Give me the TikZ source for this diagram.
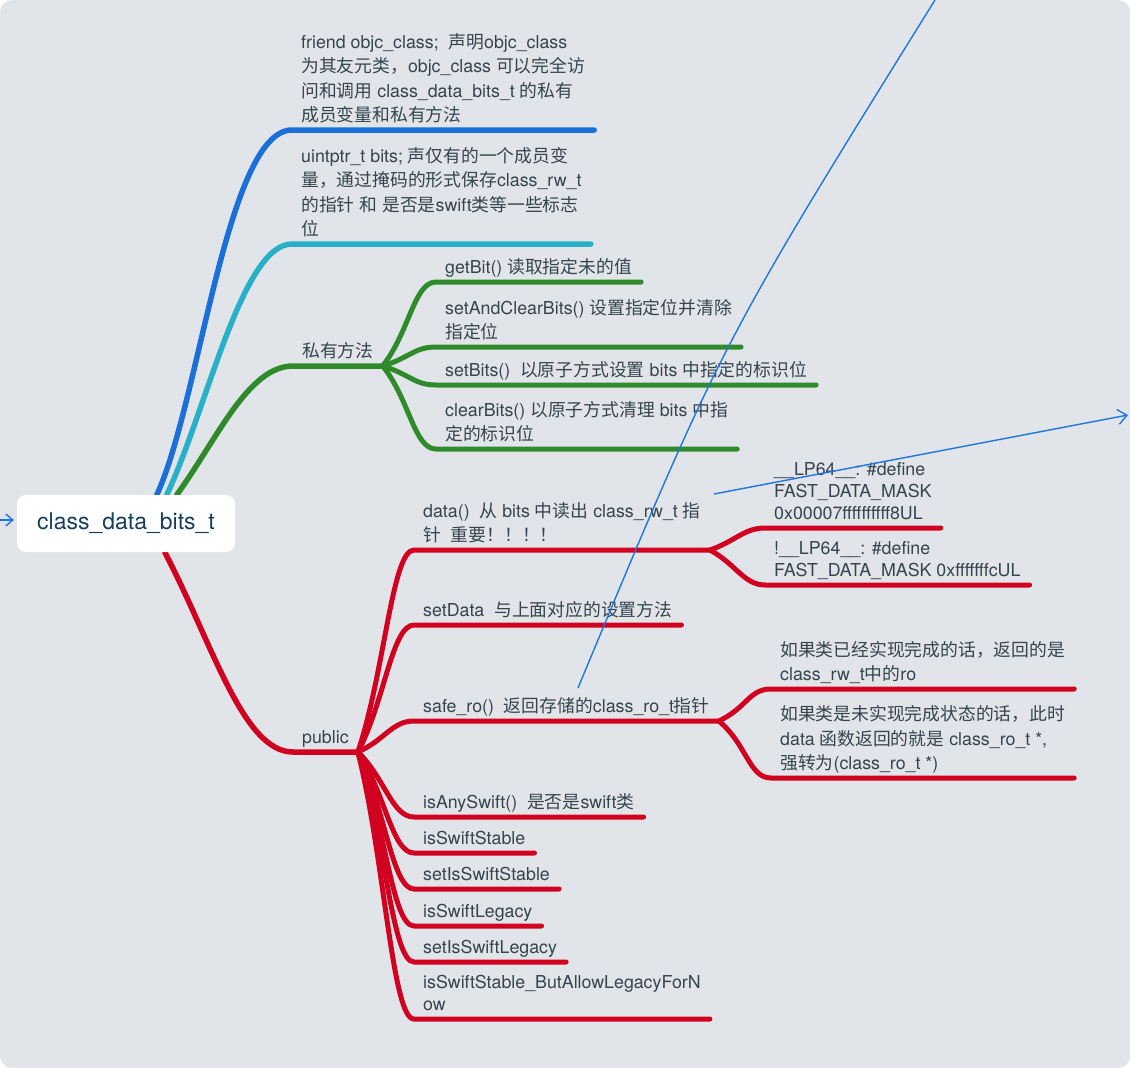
\documentclass[tikz,border=0pt]{standalone}
\usepackage{fontspec}
\setmainfont{TeX Gyre Heros}
\newfontfamily\cjkfont{Noto Sans CJK SC}
\usetikzlibrary{arrows.meta}

% CJK runs switch to the CJK family by themselves
\XeTeXinterchartokenstate=1
\newXeTeXintercharclass\cjkclass
\newcount\cjkcount
\cjkcount="3000
\loop\ifnum\cjkcount<"3040
	\XeTeXcharclass\cjkcount=\cjkclass
	\advance\cjkcount by 1
\repeat
\cjkcount="4E00
\loop\ifnum\cjkcount<"A000
	\XeTeXcharclass\cjkcount=\cjkclass
	\advance\cjkcount by 1
\repeat
\cjkcount="FF00
\loop\ifnum\cjkcount<"FFF0
	\XeTeXcharclass\cjkcount=\cjkclass
	\advance\cjkcount by 1
\repeat
\XeTeXinterchartoks 0 \cjkclass = {\begingroup\cjkfont}
\XeTeXinterchartoks 4095 \cjkclass = {\begingroup\cjkfont}
\XeTeXinterchartoks \cjkclass 0 = {\endgroup}
\XeTeXinterchartoks \cjkclass 4095 = {\endgroup}

\definecolor{canvas}{HTML}{E1E5EA}
\definecolor{branchblue}{HTML}{1A6FD8}
\definecolor{branchteal}{HTML}{28B0C8}
\definecolor{branchgreen}{HTML}{2F8A2B}
\definecolor{branchred}{HTML}{D10220}
\definecolor{textgray}{HTML}{36444D}
\definecolor{roottext}{HTML}{163F5C}
\definecolor{noteblue}{HTML}{1E76DA}

\pgfdeclarelayer{back}
\pgfdeclarelayer{lines}
\pgfsetlayers{back,lines,main}

\begin{document}
\begin{tikzpicture}[x = 1pt, y = -1pt,
		root/.style = {fill = white, rounded corners = 9pt, minimum width = 218pt, minimum height = 57pt, inner sep = 0pt, text = roottext, font = \fontsize{23}{27}\selectfont},
		leaf/.style = {anchor = south west, align = left, inner xsep = 9pt, inner ysep = 0pt, text = textgray, font = \fontsize{17.8}{24.5}\selectfont, execute at end node = {\rule[-8pt]{0pt}{8pt}}},
		tight/.style = {font = \fontsize{17.8}{22}\selectfont},
		branch/.style = {line width = 5.5pt, line cap = round},
		twig/.style = {line width = 5pt, line cap = round, branchred},
		note/.style = {noteblue, line width = 1.4pt}]
	\useasboundingbox (0, 0) rectangle (1130, 1068);
	\begin{pgfonlayer}{back}
		\fill [white] (0, 0) rectangle (1130, 1068);
		\fill [canvas, rounded corners = 12pt] (0, 0) rectangle (1130, 1068);
	\end{pgfonlayer}

	\node [root] (bits) at (126, 523.5) {class\_data\_bits\_t};

	\node [leaf] (friend) at (292, 130) {friend objc\_class; \ 声明objc\_class\\为其友元类，objc\_class 可以完全访\\问和调用 class\_data\_bits\_t 的私有\\成员变量和私有方法};
	\node [leaf] (uintptr) at (292, 244) {uintptr\_t bits; 声仅有的一个成员变\\量，通过掩码的形式保存class\_rw\_t\\的指针 和 是否是swift类等一些标志\\位};

	\node [leaf] (private) at (293, 366) {私有方法};
	\node [leaf] (getbit) at (436, 282) {getBit() 读取指定未的值};
	\node [leaf] (setclear) at (436, 347) {setAndClearBits() 设置指定位并清除\\指定位};
	\node [leaf] (setbits) at (436, 385) {setBits()\ \ 以原子方式设置 bits 中指定的标识位};
	\node [leaf] (clearbits) at (436, 449) {clearBits() 以原子方式清理 bits 中指\\定的标识位};

	\node [leaf] (public) at (293, 752) {public};
	\node [leaf] (data) at (414, 550) {data()\ \ 从 bits 中读出 class\_rw\_t 指\\针\ \ 重要！！！！};
	\node [leaf, tight] (lp64) at (765, 528) {\_\_LP64\_\_: \#define\\FAST\_DATA\_MASK\\0x00007ffffffffff8UL};
	\node [leaf, tight] (nlp64) at (765, 585) {!\_\_LP64\_\_: \#define\\FAST\_DATA\_MASK 0xfffffffcUL};
	\node [leaf] (setdata) at (414, 625) {setData\ \ 与上面对应的设置方法};
	\node [leaf] (safero) at (414, 721) {safe\_ro()\ \ 返回存储的class\_ro\_t指针};
	\node [leaf] (built) at (771, 689) {如果类已经实现完成的话，返回的是\\class\_rw\_t中的ro};
	\node [leaf] (unbuilt) at (771, 778) {如果类是未实现完成状态的话，此时\\data 函数返回的就是 class\_ro\_t *,\\强转为(class\_ro\_t *)};
	\node [leaf] (anyswift) at (414, 817) {isAnySwift()\ \ 是否是swift类};
	\node [leaf] (stable) at (414, 853) {isSwiftStable};
	\node [leaf] (setstable) at (414, 889) {setIsSwiftStable};
	\node [leaf] (legacy) at (414, 926) {isSwiftLegacy};
	\node [leaf] (setlegacy) at (414, 962) {setIsSwiftLegacy};
	\node [leaf, tight] (allowlegacy) at (414, 1019) {isSwiftStable\_ButAllowLegacyForN\\ow};

	\begin{pgfonlayer}{lines}
		% first level
		\draw [branch, branchblue] ([xshift = 140]bits.north west) .. controls +(43, -93) and +(-65, 0) .. (friend.south west) -- (friend.south east);
		\draw [branch, branchteal] ([xshift = 150]bits.north west) .. controls +(40, -85) and +(-50, 0) .. (uintptr.south west) -- (uintptr.south east);
		\draw [branch, branchgreen] ([xshift = 160]bits.north west) .. controls +(40, -55) and +(-45, 0) .. (private.south west) -- (private.south east);
		\draw [branch, branchred] ([xshift = 148]bits.south west) .. controls +(48, 92) and +(-50, 0) .. (public.south west) -- (public.south east);

		% private methods
		\draw [twig, branchgreen] (private.south east) .. controls +(27, -34) and +(-22, 0) .. (getbit.south west) -- (getbit.south east);
		\draw [twig, branchgreen] (private.south east) .. controls +(27, -8) and +(-22, 0) .. (setclear.south west) -- (setclear.south east);
		\draw [twig, branchgreen] (private.south east) .. controls +(27, 8) and +(-22, 0) .. (setbits.south west) -- (setbits.south east);
		\draw [twig, branchgreen] (private.south east) .. controls +(27, 33) and +(-22, 0) .. (clearbits.south west) -- (clearbits.south east);

		% public
		\draw [twig] (public.south east) .. controls +(27, -81) and +(-22, 0) .. (data.south west) -- (data.south east);
		\draw [twig] (public.south east) .. controls +(27, -51) and +(-22, 0) .. (setdata.south west) -- (setdata.south east);
		\draw [twig] (public.south east) .. controls +(27, -12) and +(-22, 0) .. (safero.south west) -- (safero.south east);
		\draw [twig] (public.south east) .. controls +(27, 26) and +(-22, 0) .. (anyswift.south west) -- (anyswift.south east);
		\draw [twig] (public.south east) .. controls +(27, 40) and +(-22, 0) .. (stable.south west) -- (stable.south east);
		\draw [twig] (public.south east) .. controls +(27, 55) and +(-22, 0) .. (setstable.south west) -- (setstable.south east);
		\draw [twig] (public.south east) .. controls +(27, 70) and +(-22, 0) .. (legacy.south west) -- (legacy.south east);
		\draw [twig] (public.south east) .. controls +(27, 84) and +(-22, 0) .. (setlegacy.south west) -- (setlegacy.south east);
		\draw [twig] (public.south east) .. controls +(27, 107) and +(-22, 0) .. (allowlegacy.south west) -- (allowlegacy.south east);

		\draw [twig] (data.south east) .. controls +(26, -9) and +(-21, 0) .. (lp64.south west) -- (lp64.south east);
		\draw [twig] (data.south east) .. controls +(26, 14) and +(-21, 0) .. (nlp64.south west) -- (nlp64.south east);
		\draw [twig] (safero.south east) .. controls +(28, -13) and +(-22, 0) .. (built.south west) -- (built.south east);
		\draw [twig] (safero.south east) .. controls +(28, 23) and +(-22, 0) .. (unbuilt.south west) -- (unbuilt.south east);
	\end{pgfonlayer}

	% hand-drawn links
	\coordinate (entry) at (0, 520);
	\draw [note, -{Straight Barb[length = 7pt, width = 12pt]}, shorten > = 3pt] (entry) -- (entry -| bits.west);
	\coordinate (curve start) at (578, 688);
	\coordinate (curve end) at (935, 0);
	\draw [note] (curve start) .. controls (721, 344) .. (curve end);
	\coordinate (link start) at (714, 494);
	\coordinate (link end) at (1128, 415);
	\draw [note, -{Straight Barb[length = 9pt, width = 15pt]}] (link start) -- (link end);
\end{tikzpicture}
\end{document}
